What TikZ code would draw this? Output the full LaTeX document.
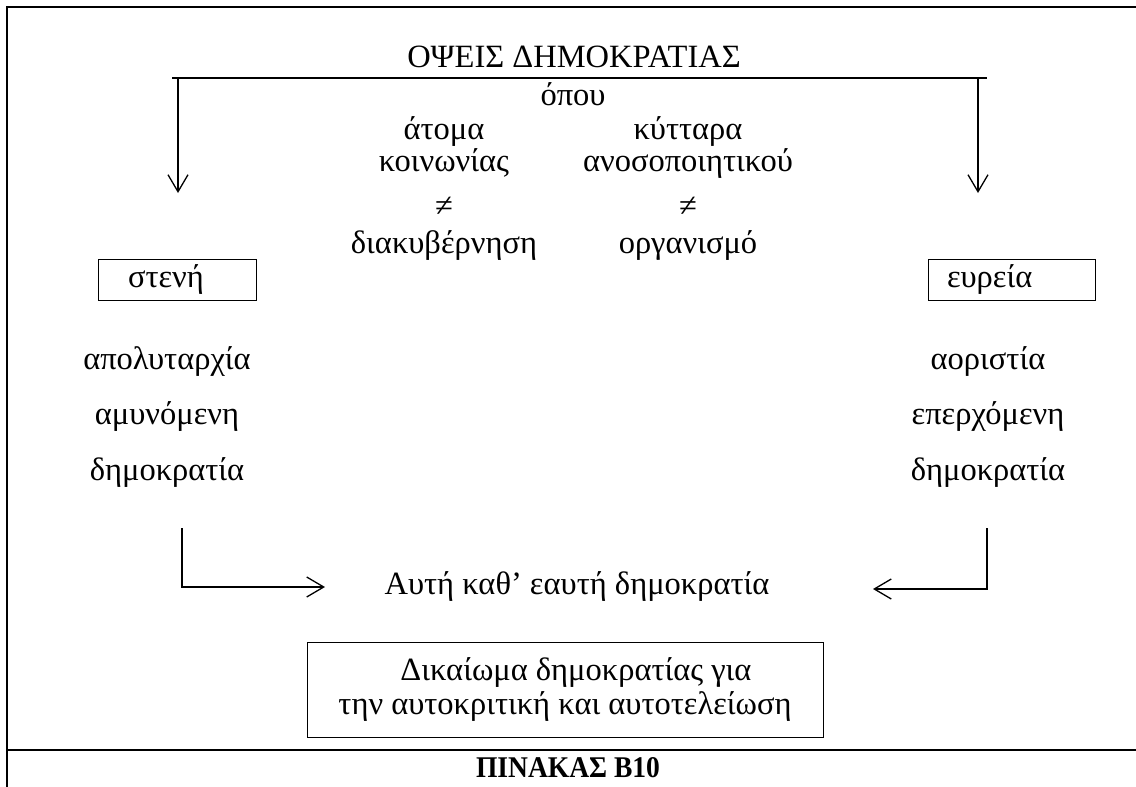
\documentclass[tikz,border=0pt]{standalone}
\usepackage{fontspec}
\setmainfont{Liberation Serif}
\usepackage{graphicx}
\usetikzlibrary{arrows.meta}

\begin{document}
\begin{tikzpicture}[x=1pt,y=-1pt,font=\fontsize{32.5}{34}\selectfont]

      \tikzset{txt/.style={anchor=base, inner sep=0pt},
               tag/.style={draw, line width=1pt, minimum height=41pt, inner ysep=0pt, align=left},
               arr/.style={line width=1.3pt, -{Straight Barb[length=17pt,width=20pt]}},
               rule/.style={line width=2.5pt}}
      \useasboundingbox (0,0) rectangle (1136,787);
%% Frame
      \draw[rule] (7,788) -- (7,7) -- (1137,7);
      \draw[rule] (7,750) -- (1137,750);
%% Title and split
      \node[txt] (title) at (574,67) {ΟΨΕΙΣ ΔΗΜΟΚΡΑΤΙΑΣ};
      \coordinate (barL) at (172,78);
      \coordinate (barR) at (987,78);
      \coordinate (downL) at (178,78);
      \coordinate (downR) at (978,78);
      \coordinate (tipL) at (178,193);
      \coordinate (tipR) at (978,193);
      \node[txt] (opou) at (573,105) {όπου};
%% Middle columns
      \node[txt] (a1) at (444,139) {άτομα};
      \node[txt] (a2) at (444,171) {κοινωνίας};
      \node[txt] (a3) at (444,216) {≠};
      \node[txt] (a4) at (444,253) {διακυβέρνηση};
      \node[txt] (b1) at (688,139) {κύτταρα};
      \node[txt] (b2) at (688,171) {ανοσοποιητικού};
      \node[txt] (b3) at (688,216) {≠};
      \node[txt] (b4) at (688,253) {οργανισμό};
%% Sides
      \node[tag, text width=98pt, inner xsep=30pt] (narrow) at (177,279.5) {στενή};
      \node[tag, text width=129pt, inner xsep=19pt] (wide) at (1011.5,279.5) {ευρεία};
      \node[txt] (l1) at (167,369) {απολυταρχία};
      \node[txt] (l2) at (167,424) {αμυνόμενη};
      \node[txt] (l3) at (167,480) {δημοκρατία};
      \node[txt] (r1) at (988,369) {αοριστία};
      \node[txt] (r2) at (988,424) {επερχόμενη};
      \node[txt] (r3) at (988,480) {δημοκρατία};
%% Bottom
      \node[txt] (itself) at (577,594) {Αυτή καθ’ εαυτή δημοκρατία};
      \coordinate (upL) at (182,528);
      \coordinate (cornL) at (182,587);
      \coordinate (endL) at (325,587);
      \coordinate (upR) at (987,528);
      \coordinate (cornR) at (987,589);
      \coordinate (endR) at (873,589);
      \node[draw, line width=1pt, minimum width=516pt, minimum height=95pt, align=center] (right) at (565,689.5)
            {\hspace*{22pt}Δικαίωμα δημοκρατίας για\\ την αυτοκριτική και αυτοτελείωση};
      \node[txt] (tablename) at (568,777) {\resizebox{184pt}{20pt}{\bfseries ΠΙΝΑΚΑΣ Β10}};
%Connectors
      \draw[line width=1.3pt] (barL) -- (barR);
      \draw[arr] (downL) -- (tipL);
      \draw[arr] (downR) -- (tipR);
      \draw[arr] (upL) -- (cornL) -- (endL);
      \draw[arr] (upR) -- (cornR) -- (endR);

\end{tikzpicture}
\end{document}
